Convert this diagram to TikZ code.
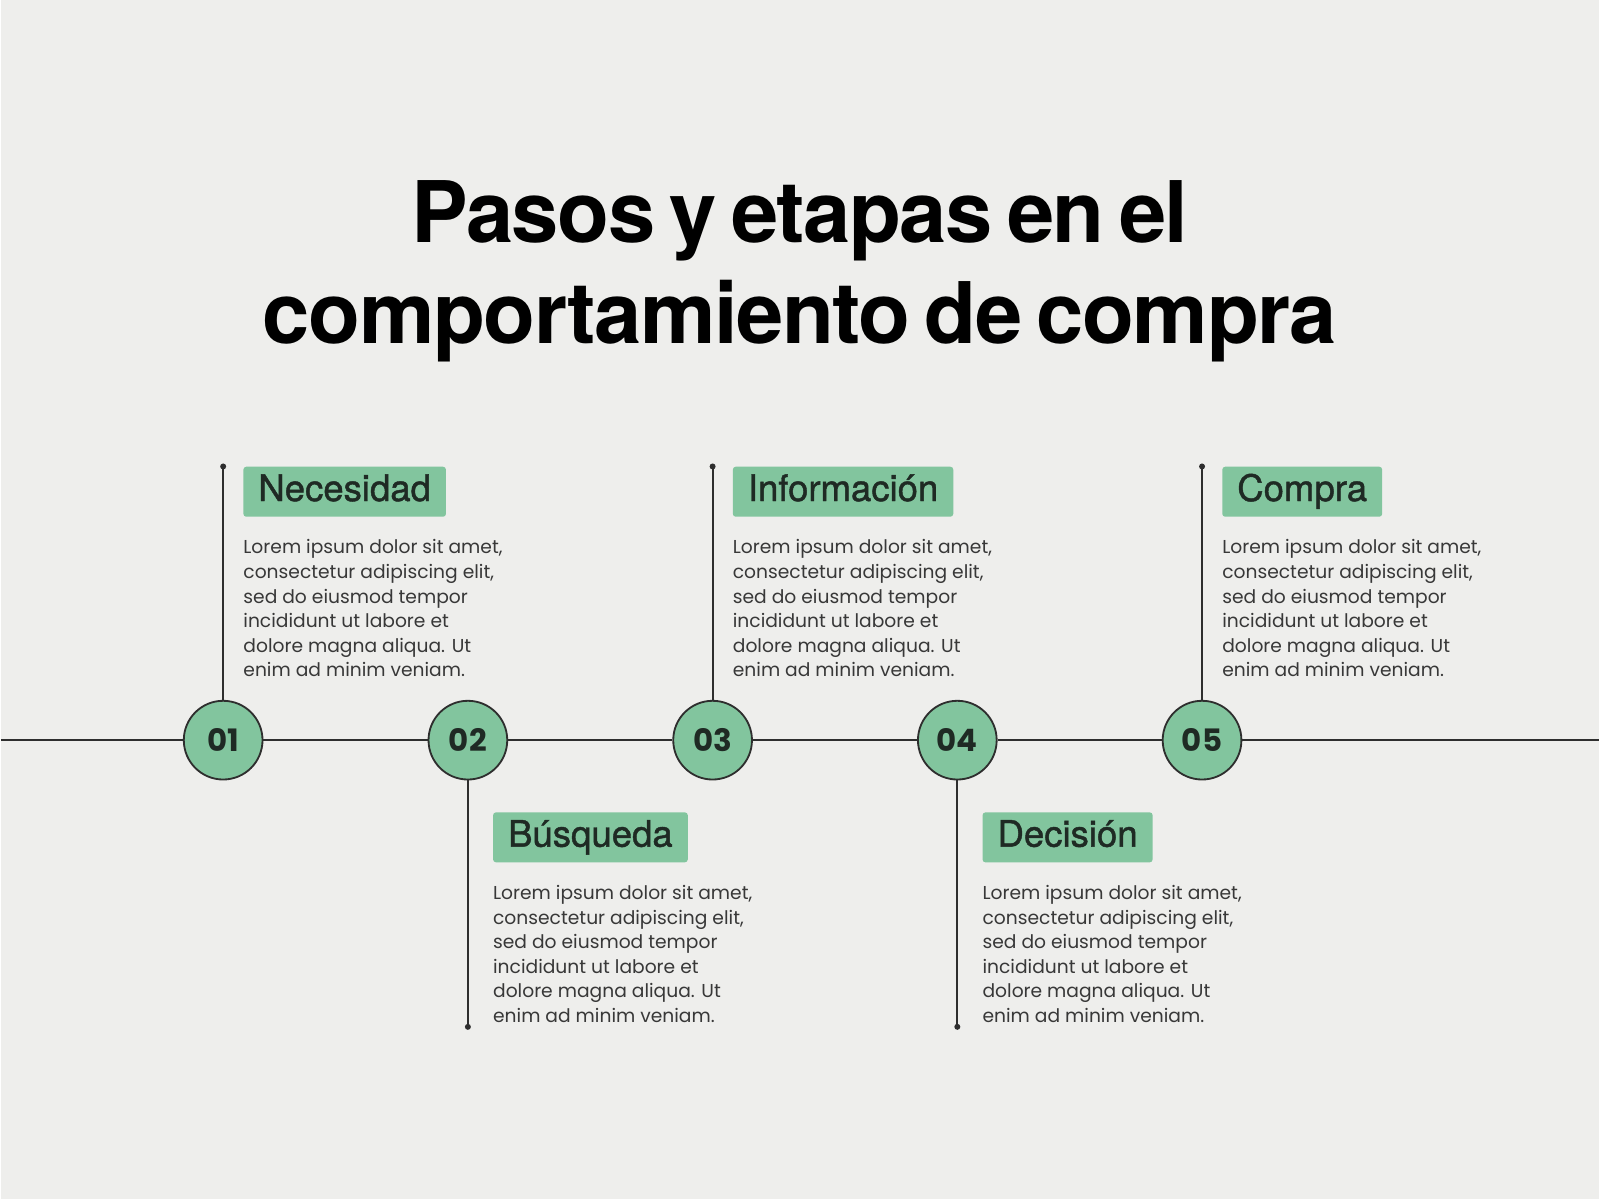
\documentclass[tikz,border=0pt]{standalone}
\usepackage{fontspec}
\setmainfont{Poppins}
\newfontfamily\headfont{TeX Gyre Heros}[FakeBold=1.2]
\newfontfamily\titlefont{TeX Gyre Heros}[WordSpace=0.65,LetterSpace=-1.8]
\usepackage{xcolor}
\definecolor{PAPERCOLOR}{HTML}{EEEEEC}
\definecolor{STEPCOLOR}{HTML}{82C59E}
\definecolor{LINECOLOR}{HTML}{2E2E2E}
\definecolor{BODYCOLOR}{HTML}{383838}
\definecolor{HEADCOLOR}{HTML}{1F2A24}
\usepackage{tikz}
\usetikzlibrary{positioning}
\tikzset{
  step-style/.style = {
    circle, draw=LINECOLOR, line width=1.3pt,
    fill=STEPCOLOR,
    minimum size=1.97cm,
    inner sep=0pt,
    text=HEADCOLOR,
    font=\bfseries\fontsize{22}{22}\selectfont
  },
  label-style/.style = {
    rectangle, rounded corners=2pt,
    fill=STEPCOLOR,
    minimum height=1.25cm,
    text height=0.64cm, text depth=0.175cm,
    inner xsep=0.375cm, inner ysep=0pt,
    text=HEADCOLOR,
    font=\headfont\fontsize{26}{26}\selectfont
  },
  body-style/.style = {
    align=left, inner sep=0pt,
    text=BODYCOLOR,
    font=\fontsize{13.3}{17.5}\selectfont
  },
  dot-style/.style = {
    circle, fill=LINECOLOR, inner sep=0pt, minimum size=0.15cm
  },
  line-style/.style = {
    draw=LINECOLOR, line width=1.3pt
  },
  title-style/.style = {
    anchor=base, inner sep=0pt,
    font=\titlefont\bfseries\fontsize{60.5}{60.5}\selectfont
  }
}
\newcommand\loremText{Lorem ipsum dolor sit amet,\\consectetur adipiscing elit,\\sed do eiusmod tempor\\incididunt ut labore et\\dolore magna aliqua. Ut\\enim ad minim veniam.}

\begin{document}
\begin{tikzpicture}[x=0.025cm,y=-0.025cm]
    %%% paper
    \fill[PAPERCOLOR] (0,0) rectangle (1600,1200);

    %%% title
    \node[title-style] (title1) at (800,243) {Pasos y etapas en el};
    \node[title-style] (title2) at (800,344) {comportamiento de compra};

    %%% steps on the time line
    \node[step-style] (c1) at (222.5,741) {01};
    \node[step-style] (c2) at (467.5,741) {02};
    \node[step-style] (c3) at (712.5,741) {03};
    \node[step-style] (c4) at (957.5,741) {04};
    \node[step-style] (c5) at (1202.5,741) {05};
    \coordinate (lineW) at (0,741);
    \coordinate (lineE) at (1600,741);
    \draw[line-style] (lineW) -- (c1) (c1) -- (c2) (c2) -- (c3) (c3) -- (c4) (c4) -- (c5) (c5) -- (lineE);

    %%% stems
    \node[dot-style] (dot1) at (222.5,467) {};
    \node[dot-style] (dot2) at (467.5,1028) {};
    \node[dot-style] (dot3) at (712.5,467) {};
    \node[dot-style] (dot4) at (957.5,1028) {};
    \node[dot-style] (dot5) at (1202.5,467) {};
    \draw[line-style] (c1) -- (dot1.center);
    \draw[line-style] (c2) -- (dot2.center);
    \draw[line-style] (c3) -- (dot3.center);
    \draw[line-style] (c4) -- (dot4.center);
    \draw[line-style] (c5) -- (dot5.center);

    %%% upper labels
    \node[label-style,below right=0cm and 0.5cm of dot1.center] (lab1) {Necesidad};
    \node[label-style,below right=0cm and 0.5cm of dot3.center] (lab3) {Información};
    \node[label-style,below right=0cm and 0.5cm of dot5.center] (lab5) {Compra};
    \node[body-style,below right=0.56cm and 0cm of lab1.south west] (txt1) {\loremText};
    \node[body-style,below right=0.56cm and 0cm of lab3.south west] (txt3) {\loremText};
    \node[body-style,below right=0.56cm and 0cm of lab5.south west] (txt5) {\loremText};

    %%% lower labels
    \node[label-style,below right=1.8cm and 0.625cm of c2.center] (lab2) {Búsqueda};
    \node[label-style,below right=1.8cm and 0.625cm of c4.center] (lab4) {Decisión};
    \node[body-style,below right=0.56cm and 0cm of lab2.south west] (txt2) {\loremText};
    \node[body-style,below right=0.56cm and 0cm of lab4.south west] (txt4) {\loremText};
\end{tikzpicture}
\end{document}
